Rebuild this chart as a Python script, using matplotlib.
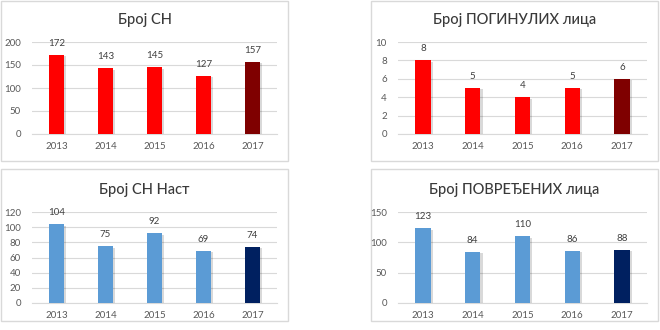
import matplotlib
matplotlib.use("Agg")
import matplotlib.pyplot as plt
from matplotlib.patches import Rectangle
import matplotlib.patheffects as pe

plt.rcParams['font.family'] = ['Lato', 'DejaVu Sans']

years = ["2013", "2014", "2015", "2016", "2017"]
sn_values = [172, 143, 145, 127, 157]
killed_values = [8, 5, 4, 5, 6]
sn_nast_values = [104, 75, 92, 69, 74]
injured_values = [123, 84, 110, 86, 88]

titles = ["Број СН", "Број ПОГИНУЛИХ лица", "Број СН Наст", "Број ПОВРЕЂЕНИХ лица"]
red, dark_red = "#FF0000", "#7F0000"
blue, navy = "#5B9BD5", "#002060"

W, H = 660, 330
fig = plt.figure(figsize=(W / 100, H / 100), dpi=100)

def px_rect(x0, y0, x1, y1):
    return [x0 / W, 1 - y1 / H, (x1 - x0) / W, (y1 - y0) / H]

panels = [
    ((1, 1, 288, 161), (32, 42, 277, 134), 20, sn_values, 200, 50, (red, dark_red), titles[0]),
    ((371, 1, 658, 161), (398, 42, 647, 134), 20, killed_values, 10, 2, (red, dark_red), titles[1]),
    ((1, 169, 288, 321), (32, 212, 277, 303), 190, sn_nast_values, 120, 20, (blue, navy), titles[2]),
    ((371, 169, 658, 321), (398, 212, 647, 303), 190, injured_values, 150, 50, (blue, navy), titles[3]),
]

for box, arect, ty, vals, ymax, step, (c1, c2), title in panels:
    bx0, by0, bx1, by1 = box
    fig.patches.append(Rectangle((bx0 / W, 1 - by1 / H), (bx1 - bx0) / W, (by1 - by0) / H,
                                 transform=fig.transFigure, facecolor="white",
                                 edgecolor="#D9D9D9", linewidth=1.0, zorder=-5))
    fig.text(((bx0 + bx1) / 2) / W, 1 - ty / H, title, ha="center", va="center",
             fontsize=10.5, color="#3A3A3A", fontweight="medium")
    ax = fig.add_axes(px_rect(*arect), zorder=2)
    ax.patch.set_visible(False)
    colors = [c1] * (len(vals) - 1) + [c2]
    bars = ax.bar(range(len(vals)), vals, width=0.31, color=colors, zorder=3)
    for b in bars:
        b.set_path_effects([pe.SimplePatchShadow(offset=(1.5, -1), shadow_rgbFace="#000000", alpha=0.15),
                            pe.Normal()])
    for i, v in enumerate(vals):
        ax.annotate(str(v), (i, v), xytext=(0, 5), textcoords="offset points",
                    ha="center", va="bottom", fontsize=7, color="#404040")
    ax.set_ylim(0, ymax)
    ax.set_xlim(-0.5, len(vals) - 0.5)
    ax.set_yticks(range(0, ymax + 1, step))
    ax.set_xticks(range(len(vals)))
    ax.set_xticklabels(years)
    ax.tick_params(axis="both", length=0, labelsize=7, colors="#595959")
    ax.tick_params(axis="x", pad=6)
    ax.tick_params(axis="y", pad=8)
    ax.grid(axis="y", color="#D9D9D9", linewidth=0.8, zorder=0)
    for s in ["top", "right", "left"]:
        ax.spines[s].set_visible(False)
    ax.spines["bottom"].set_color("#D9D9D9")
    ax.spines["bottom"].set_linewidth(0.8)

fig.savefig("out.png", dpi=100, facecolor="white")
